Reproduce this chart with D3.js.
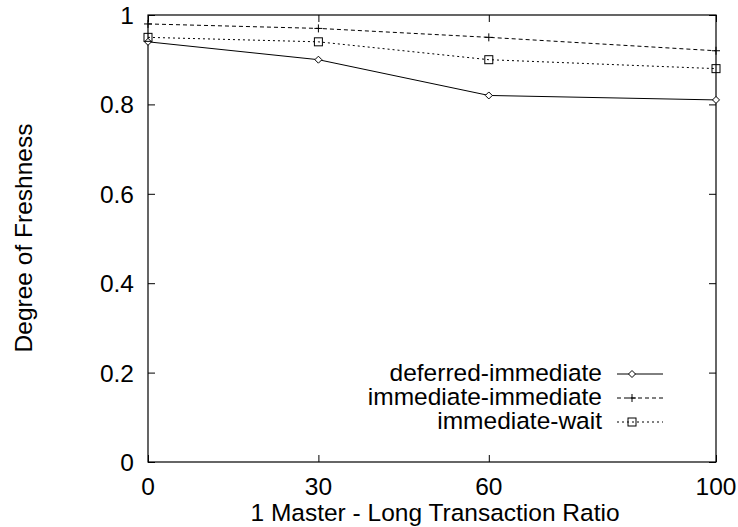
<!DOCTYPE html>
<html>
<head>
    <title>D3.js</title>
</head>
<style>
    body { margin: 0; background: #fff; }
    text { font-family: "Liberation Sans", Arial, sans-serif; fill: #000; }
</style>
<body>
<svg width="738" height="527"></svg>
<script src="https://d3js.org/d3.v7.min.js"></script>
<script>
var ratios = [0, 30, 60, 100];
var xTicks = [0, 30, 60, 100];
var yTicks = [0, 0.2, 0.4, 0.6, 0.8, 1];
var seriesNames = ["deferred-immediate", "immediate-immediate", "immediate-wait"];
var deferredImmediate = [0.94, 0.90, 0.82, 0.81];
var immediateImmediate = [0.98, 0.97, 0.95, 0.92];
var immediateWait = [0.95, 0.94, 0.90, 0.88];

var series = [
    {name: seriesNames[0], values: deferredImmediate, dash: null, marker: "diamond"},
    {name: seriesNames[1], values: immediateImmediate, dash: "4,3", marker: "plus"},
    {name: seriesNames[2], values: immediateWait, dash: "2,3", marker: "square"}
];

var svg = d3.select("svg"),
    pL = 148, pR = 716, pT = 15, pB = 462,
    fs = 24.5;

var x = d3.scaleLinear().domain([0, 100]).range([pL, pR]);
var y = d3.scaleLinear().domain([0, 1]).range([pB, pT]);

var tk = 7;
// inward ticks on all four sides
svg.append("g").attr("transform", "translate(0," + pB + ")")
    .call(d3.axisTop(x).tickValues(xTicks).tickSize(tk).tickFormat(""))
    .call(g => g.select(".domain").remove());
svg.append("g").attr("transform", "translate(0," + pT + ")")
    .call(d3.axisBottom(x).tickValues(xTicks).tickSize(tk).tickFormat(""))
    .call(g => g.select(".domain").remove());
svg.append("g").attr("transform", "translate(" + pL + ",0)")
    .call(d3.axisRight(y).tickValues(yTicks).tickSize(tk).tickFormat(""))
    .call(g => g.select(".domain").remove());
svg.append("g").attr("transform", "translate(" + pR + ",0)")
    .call(d3.axisLeft(y).tickValues(yTicks).tickSize(tk).tickFormat(""))
    .call(g => g.select(".domain").remove());

svg.selectAll(".tick line").attr("stroke", "#000");

svg.append("rect")
    .attr("x", pL).attr("y", pT)
    .attr("width", pR - pL).attr("height", pB - pT)
    .attr("fill", "none").attr("stroke", "#000").attr("stroke-width", 1.2);

// tick labels
svg.selectAll(".xlab").data(xTicks).enter().append("text")
    .attr("x", d => x(d)).attr("y", 495)
    .attr("text-anchor", "middle").attr("font-size", fs)
    .text(d => d);
svg.selectAll(".ylab").data(yTicks).enter().append("text")
    .attr("x", 134).attr("y", d => y(d) + 9)
    .attr("text-anchor", "end").attr("font-size", fs)
    .text(d => d);

svg.append("text").attr("x", 435).attr("y", 521)
    .attr("text-anchor", "middle").attr("font-size", fs)
    .text("1 Master - Long Transaction Ratio");
svg.append("text")
    .attr("transform", "translate(32,238) rotate(-90)")
    .attr("text-anchor", "middle").attr("font-size", fs)
    .text("Degree of Freshness");

function marker(g, type, cx, cy) {
    if (type === "diamond") {
        g.append("path")
            .attr("d", "M" + cx + "," + (cy - 3.5) + "L" + (cx + 3.5) + "," + cy + "L" + cx + "," + (cy + 3.5) + "L" + (cx - 3.5) + "," + cy + "Z")
            .attr("fill", "#fff").attr("stroke", "#000");
    } else if (type === "plus") {
        g.append("path")
            .attr("d", "M" + (cx - 4) + "," + cy + "H" + (cx + 4) + "M" + cx + "," + (cy - 4) + "V" + (cy + 4))
            .attr("stroke", "#000");
    } else {
        g.append("rect")
            .attr("x", cx - 4).attr("y", cy - 4).attr("width", 8).attr("height", 8)
            .attr("fill", "none").attr("stroke", "#000");
    }
}

var line = d3.line().x((d, i) => x(ratios[i])).y(d => y(d));

series.forEach(function(s, k) {
    var g = svg.append("g");
    g.append("path").attr("d", line(s.values))
        .attr("fill", "none").attr("stroke", "#000")
        .attr("stroke-dasharray", s.dash);
    s.values.forEach((v, i) => marker(g, s.marker, x(ratios[i]), y(v)));

    var ly = 374 + k * 24;
    svg.append("text").attr("x", 602).attr("y", ly + 7)
        .attr("text-anchor", "end").attr("font-size", fs)
        .text(s.name);
    svg.append("line").attr("x1", 617).attr("x2", 663)
        .attr("y1", ly).attr("y2", ly)
        .attr("stroke", "#000").attr("stroke-dasharray", s.dash);
    marker(svg, s.marker, 632, ly);
});
</script>
</body>
</html>
